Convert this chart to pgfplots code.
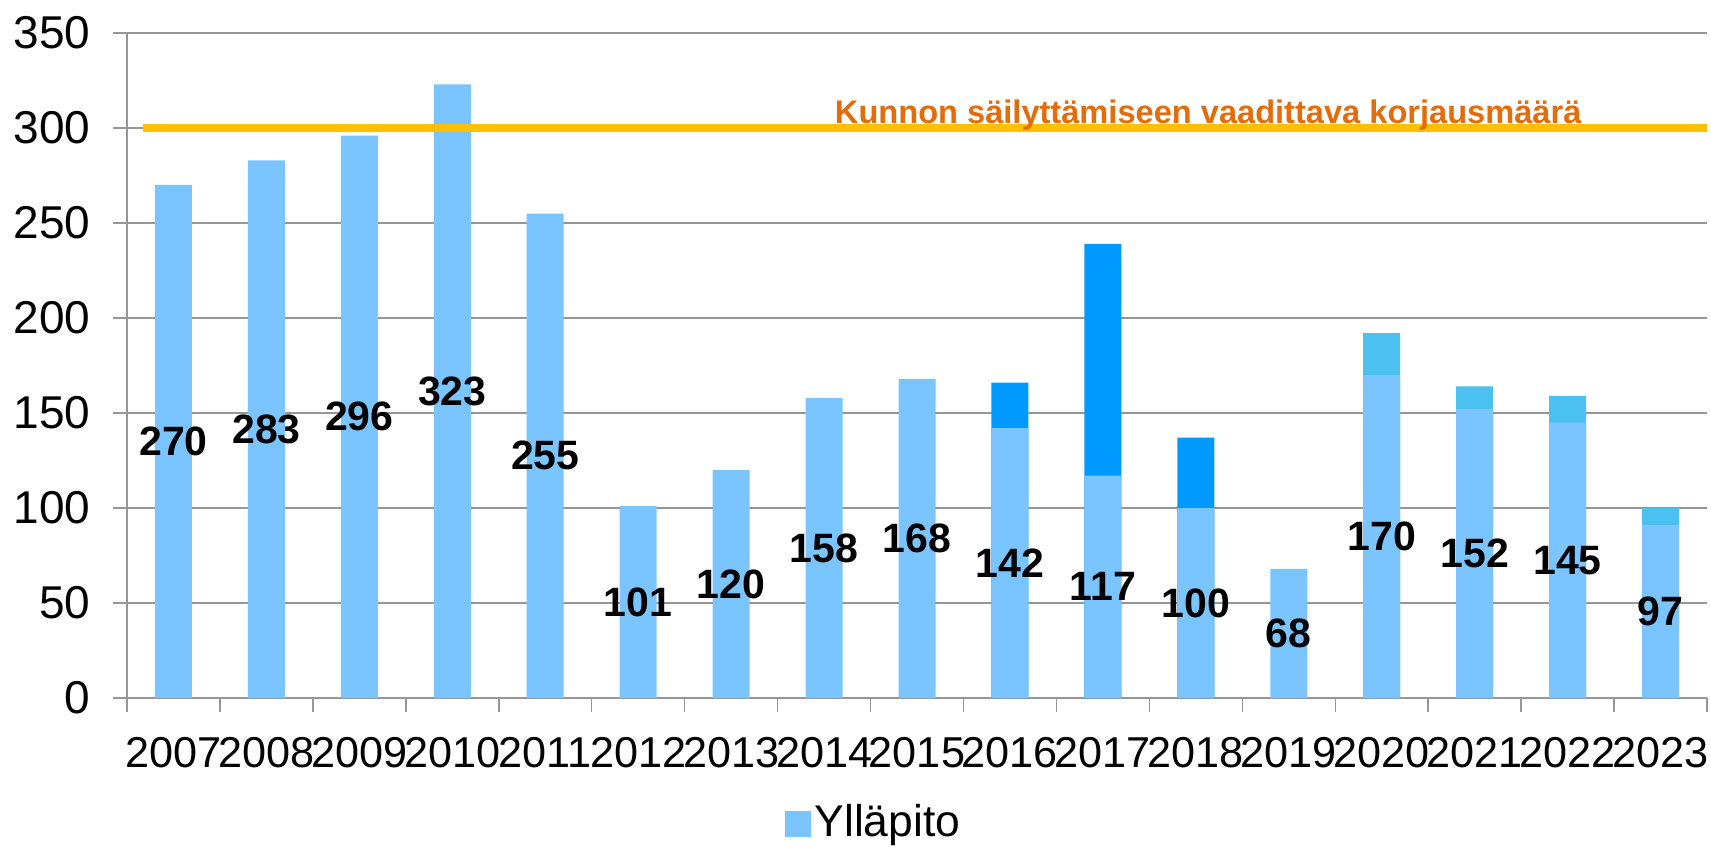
\documentclass[border=0pt]{standalone}
\usepackage{fontspec}
\setmainfont{Liberation Sans}
\usepackage{pgfplots}
\pgfplotsset{compat=1.18}

\definecolor{ylight}{RGB}{122,197,255}
\definecolor{ydark}{RGB}{0,153,255}
\definecolor{ycyan}{RGB}{74,193,241}
\definecolor{gold}{RGB}{255,192,0}
\definecolor{orangetxt}{RGB}{228,108,10}
\definecolor{gridgray}{RGB}{150,150,150}

\begin{document}
\begin{tikzpicture}
\path[use as bounding box] (-63.5pt,-74pt) rectangle (792pt,349pt);
\begin{axis}[
  scale only axis, width=790pt, height=332.5pt,
  xmin=-0.5, xmax=16.5, ymin=0, ymax=350,
  axis x line*=bottom, axis y line*=left,
  axis line style={gridgray, line width=0.75pt, -},
  ytick={0,50,...,350},
  ymajorgrids, grid style={gridgray, line width=0.75pt},
  xtick={0,...,16},
  xticklabels={2007,2008,2009,2010,2011,2012,2013,2014,2015,2016,2017,2018,2019,2020,2021,2022,2023},
  minor xtick={-0.5,0.5,...,16.5},
  tick align=outside,
  major tick length=7pt, minor tick length=7pt,
  major x tick style={draw=none},
  minor x tick style={gridgray, line width=0.75pt},
  y tick style={gridgray, line width=0.75pt},
  /pgf/number format/assume math mode=true,
  yticklabel style={anchor=east, inner sep=0pt, xshift=-11.2pt,
    font=\fontsize{23}{26}\selectfont, text=black},
  xticklabel style={anchor=north, inner sep=0pt, yshift=-12.5pt,
    font=\fontsize{21.6}{25}\selectfont, text=black},
  legend style={at={(0.473,-0.186)}, anchor=center, draw=none, fill=none,
    font=\fontsize{22.2}{26}\selectfont},
  legend image code/.code={\fill[ylight] (0pt,-7.5pt) rectangle (13pt,5.5pt);},
]
\addplot[ybar, bar width=18.5pt, bar shift=0pt, fill=ydark, draw=none, forget plot]
  coordinates {(9,166) (10,239) (11,137)};
\addplot[ybar, bar width=18.5pt, bar shift=0pt, fill=ycyan, draw=none, forget plot]
  coordinates {(13,192) (14,164) (15,159) (16,100)};
\addplot[ybar, bar width=18.5pt, bar shift=0pt, fill=ylight, draw=none]
  coordinates {(0,270) (1,283) (2,296) (3,323) (4,255) (5,101) (6,120) (7,158) (8,168)
               (9,142) (10,117) (11,100) (12,68) (13,170) (14,152) (15,145) (16,91)};
\addlegendentry{Ylläpito}
\addplot[gold, line width=4pt, sharp plot, forget plot]
  coordinates {(-0.33,300) (16.5,300)};
\addplot[draw=none, sharp plot, forget plot, nodes near coords, point meta=explicit symbolic,
  nodes near coords style={anchor=center, inner sep=0pt, text=black,
    font=\bfseries\fontsize{20.5}{23}\selectfont}]
  table[meta=lab] {
x y lab
0 135 270
1 141.5 283
2 148 296
3 161.5 323
4 127.5 255
5 50.5 101
6 60 120
7 79 158
8 84 168
9 71 142
10 58.5 117
11 50 100
12 34 68
13 85 170
14 76 152
15 72.5 145
16 45.5 97
};
\node[anchor=base west, inner sep=0pt, text=orangetxt,
  font=\bfseries\fontsize{16.3}{19}\selectfont]
  at (axis cs:7.113,302.6) {Kunnon säilyttämiseen vaadittava korjausmäärä};
\end{axis}
\end{tikzpicture}
\end{document}
